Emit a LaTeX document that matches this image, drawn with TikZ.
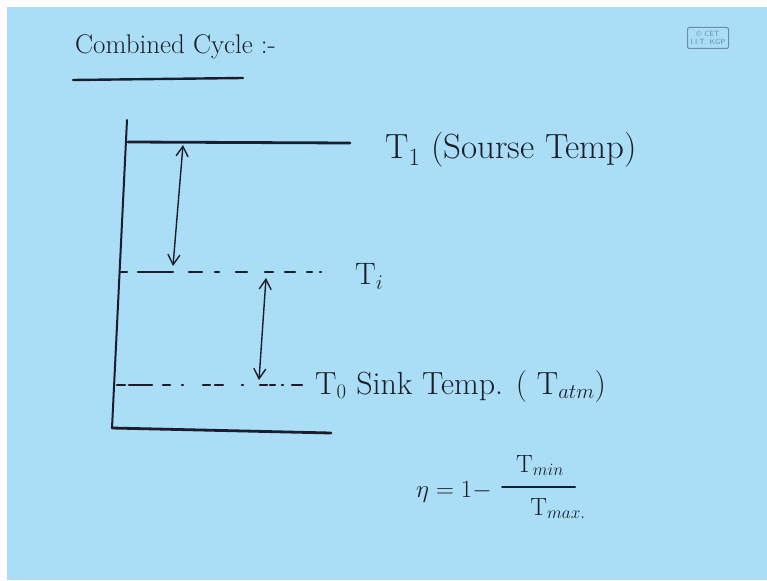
\documentclass[tikz,border=0pt]{standalone}
\usetikzlibrary{arrows.meta}
\definecolor{bg}{RGB}{170,222,246}
\definecolor{ink}{RGB}{28,28,42}
\definecolor{wm}{RGB}{110,140,165}
\begin{document}
\begin{tikzpicture}[x=1pt,y=-1pt,
  ink/.style={draw=ink,line cap=round,line join=round},
  thick line/.style={ink,line width=2.8pt},
  axis line/.style={ink,line width=2pt},
  dash seg/.style={ink,line width=2.6pt},
  twoway/.style={ink,line width=1.4pt,{Straight Barb[length=10pt,width=12pt,line width=1.4pt]}-{Straight Barb[length=10pt,width=12pt,line width=1.4pt]}},
  lbl/.style={text=ink,inner sep=0pt,anchor=base west,font=\fontsize{31}{36}\selectfont},
]
\fill[white] (0,0) rectangle (767,580);
\fill[bg] (7,7) rectangle (767,580);
\useasboundingbox (0,0) rectangle (767,580);

% title
\node[lbl,font=\fontsize{27}{32}\selectfont] (title) at (75,54) {Combined Cycle :-};
\draw[ink,line width=2.4pt] (73,80) -- (243,78);

% watermark
\node[draw=wm,line width=1pt,rounded corners=2pt,text=wm,align=center,inner sep=1.5pt,
      font=\fontsize{7.5}{8}\selectfont\sffamily,minimum width=41pt,minimum height=21pt] (wmark) at (708,38) {\copyright\ CET\\I.I.T. KGP};

% axes
\coordinate (axtop) at (127,120);
\coordinate (axbot) at (112,428);
\coordinate (botend) at (331,433);
\draw[axis line] (axtop) -- (axbot);
\draw[thick line] (axbot) .. controls (200,430) .. (botend);

% T1 line
\coordinate (t1a) at (128,142);
\coordinate (t1b) at (350,143);
\draw[thick line] (t1a) -- (t1b);

% Ti dashed line (hand drawn segments)
\foreach \a/\b in {121/127,138/173,189/202,215/219,236/247,265/273,285/295,307/312,320/321}
  \draw[dash seg] (\a,272) -- (\b,272);

% T0 dashed line
\foreach \a/\b in {117/125,129/152,163/170,182/183,203/210,215/223,242/243,260/267,270/275,282/283,292/302}
  \draw[dash seg] (\a,385) -- (\b,385);

% arrows
\coordinate (a1top) at (183,145);
\coordinate (a1bot) at (173,266);
\coordinate (a2top) at (266,278);
\coordinate (a2bot) at (259,380);
\draw[twoway] (a1top) -- (a1bot);
\draw[twoway] (a2top) -- (a2bot);

% labels
\node[lbl,font=\fontsize{35}{40}\selectfont] (lT1) at (385,158) {T$_1$ (Sourse Temp)};
\node[lbl] (lTi) at (355,284) {T$_i$};
\node[lbl,font=\fontsize{32}{37}\selectfont] (lT0) at (315,394) {T$_0$ Sink Temp. ( T$_{atm}$)};

% formula
\node[lbl,font=\fontsize{33}{38}\selectfont] (lhs) at (416,497) {$\eta = 1 -$};
\node[text=ink,inner sep=0pt,anchor=base,font=\fontsize{25}{29}\selectfont] (num) at (540,472) {T$_{min}$};
\node[text=ink,inner sep=0pt,anchor=base,font=\fontsize{25}{29}\selectfont] (den) at (558,515) {T$_{max.}$};
\draw[ink,line width=2pt] (502,487) -- (575,487);
\end{tikzpicture}
\end{document}
